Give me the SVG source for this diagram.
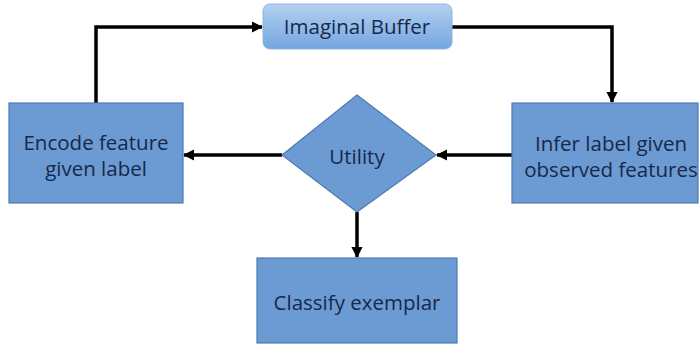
<svg xmlns="http://www.w3.org/2000/svg" width="700" height="346" viewBox="0 0 700 346">
<defs>
<linearGradient id="gb" x1="0" y1="0" x2="0" y2="1">
<stop offset="0" stop-color="#b3d0f0"/>
<stop offset="1" stop-color="#74a6e0"/>
</linearGradient>
<marker id="ah" viewBox="0 0 10 10" refX="9" refY="5" markerWidth="3.2" markerHeight="3.2" orient="auto" markerUnits="strokeWidth">
<path d="M0,0 L10,5 L0,10 z" fill="#000"/>
</marker>
<style>
.box{fill:#6b9bd2;stroke:#4f7bb0;stroke-width:1.2}
.t{font-family:"Open Sans","Liberation Sans",sans-serif;font-size:20.5px;fill:#17284a;text-anchor:middle}
.c{fill:none;stroke:#000;stroke-width:3.5;marker-end:url(#ah)}
</style>
</defs>
<rect width="700" height="346" fill="#fff"/>
<g id="connectors">
<path class="c" d="M96,103 V27 H262"/>
<path class="c" d="M452,27 H612 V102"/>
<path class="c" d="M282,155 H184"/>
<path class="c" d="M512,155 H437"/>
<path class="c" d="M357,212 V257"/>
</g>
<g id="imaginal">
<rect x="263" y="4" width="189" height="45" rx="7" fill="url(#gb)" stroke="#8fb4df" stroke-width="1"/>
<text class="t" x="357" y="34">Imaginal Buffer</text>
</g>
<g id="encode">
<rect class="box" x="9" y="103" width="174" height="100"/>
<text class="t" x="96" y="150">Encode feature</text>
<text class="t" x="96" y="176">given label</text>
</g>
<g id="utility">
<polygon class="box" points="357,95 436,155 357,212 282,155"/>
<text class="t" x="357" y="164">Utility</text>
</g>
<g id="infer">
<rect class="box" x="512" y="103" width="186" height="100"/>
<text class="t" x="611" y="151">Infer label given</text>
<text class="t" x="611" y="177">observed features</text>
</g>
<g id="classify">
<rect class="box" x="257" y="258" width="200" height="85"/>
<text class="t" x="357" y="310">Classify exemplar</text>
</g>
</svg>
